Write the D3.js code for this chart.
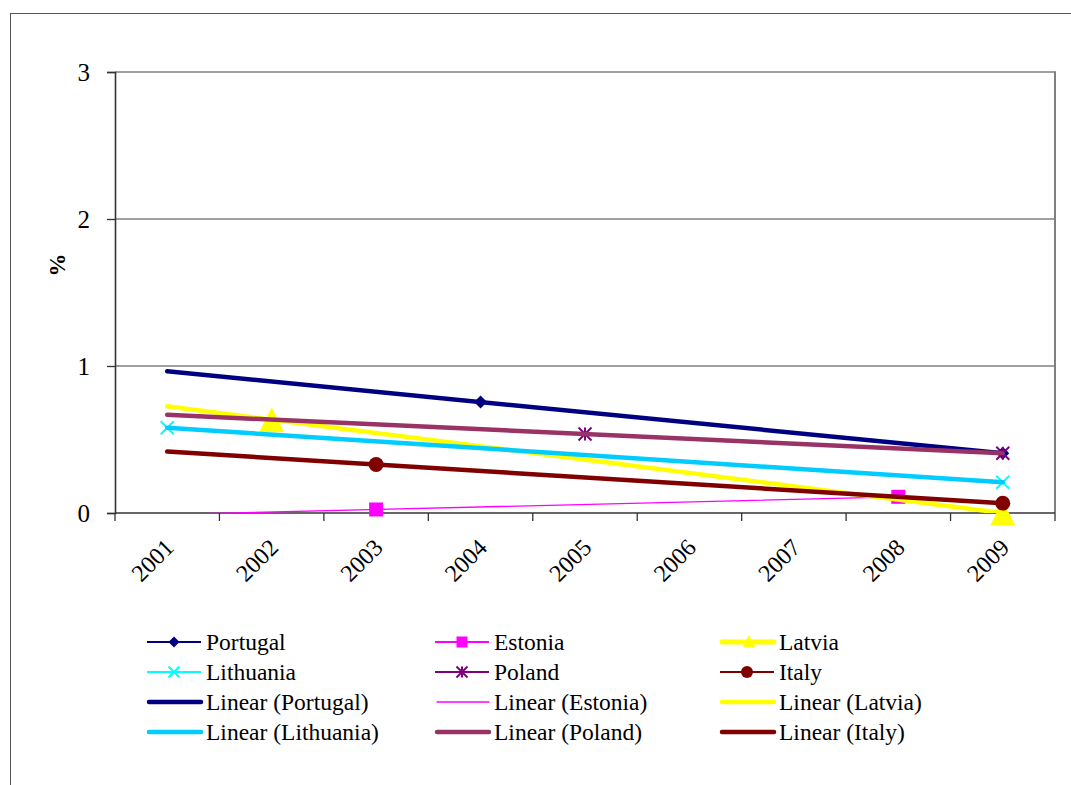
<html><head><meta charset="utf-8"><script src="https://cdn.jsdelivr.net/npm/d3@7"></script></head>
<body style="margin:0">
<svg id="chart" width="1071" height="785" style="font-family:'Liberation Serif'"></svg>
<script>
// ---- Data ----
const years = ["2001","2002","2003","2004","2005","2006","2007","2008","2009"];
const portugal  = [null, null, null, 0.755, null, null, null, null, 0.406];
const estonia   = [null, null, 0.024, null, null, null, null, 0.11, null];
const latvia    = [null, 0.635, null, null, null, null, null, null, 0.0];
const lithuania = [0.58, null, null, null, null, null, null, null, 0.209];
const poland    = [null, null, null, null, 0.537, null, null, null, 0.406];
const italy     = [null, null, 0.33, null, null, null, null, null, 0.066];
const yTicks = [0, 1, 2, 3];
const yLabel = "%";

const seriesNames = ["Portugal","Estonia","Latvia","Lithuania","Poland","Italy"];
const seriesValues = [portugal, estonia, latvia, lithuania, poland, italy];

// styles
const FONT = '"Liberation Serif"';
const markerColor = {Portugal:"#000080", Estonia:"#FF00FF", Latvia:"#FFFF00", Lithuania:"#00FFFF", Poland:"#800080", Italy:"#800000"};
const markerShape = {Portugal:"diamond", Estonia:"square", Latvia:"triangle", Lithuania:"x", Poland:"star", Italy:"circle"};
const trendColor = {Portugal:"#000080", Estonia:"#FF00FF", Latvia:"#FFFF00", Lithuania:"#00CCFF", Poland:"#993366", Italy:"#800000"};
const trendWidth = {Portugal:4.5, Estonia:1.3, Latvia:4.5, Lithuania:4.5, Poland:4.5, Italy:4.5};

const svg = d3.select("#chart");
const L = 115, R = 1055, T = 72, B = 513;

const x = d3.scalePoint().domain(years).range([L, R]).padding(0.5);
const xBand = d3.scaleBand().domain(years).range([L, R]);
const xi = d3.scaleLinear().domain([0, years.length - 1]).range([x(years[0]), x(years[years.length-1])]);
const y = d3.scaleLinear().domain([0, 3]).range([B, T]);

// outer border
svg.append("rect").attr("x", 10.5).attr("y", 13.5).attr("width", 1100).attr("height", 800)
  .attr("fill", "none").attr("stroke", "#555").attr("stroke-width", 1);

// gridlines
svg.append("g").selectAll("line").data(yTicks.filter(d => d > 0)).join("line")
  .attr("x1", L).attr("x2", R).attr("y1", d => y(d)).attr("y2", d => y(d))
  .attr("stroke", "#808080").attr("stroke-width", 1.6);
// right border of plot area
svg.append("line").attr("x1", R).attr("x2", R).attr("y1", T - 0.8).attr("y2", B)
  .attr("stroke", "#808080").attr("stroke-width", 2);

// y axis
const yAxis = d3.axisLeft(y).tickValues(yTicks).tickSize(8).tickPadding(17).tickFormat(d3.format("d"));
const gy = svg.append("g").attr("transform", `translate(${L},0)`).call(yAxis);
gy.attr("font-family", null);
gy.select(".domain").attr("stroke", "#333").attr("stroke-width", 1.6);
gy.selectAll(".tick line").attr("stroke", "#333").attr("stroke-width", 1.3);
gy.selectAll(".tick text").attr("font-size", 25).style("font-family", FONT).attr("fill", "#000").attr("dy", "0.33em");

// x axis: ticks at band boundaries
const gx = svg.append("g").attr("transform", `translate(0,${B})`);
gx.append("line").attr("x1", L).attr("x2", R).attr("stroke", "#333").attr("stroke-width", 1.6);
const bounds = years.map(d => xBand(d)).concat([R]);
gx.selectAll("line.tk").data(bounds).join("line").attr("class", "tk")
  .attr("x1", d => d).attr("x2", d => d).attr("y1", 0).attr("y2", 8)
  .attr("stroke", "#333").attr("stroke-width", 1.3);
gx.selectAll("text").data(years).join("text")
  .attr("transform", d => `translate(${x(d) + 8},${36}) rotate(-45)`)
  .attr("text-anchor", "end").attr("font-size", 24).style("font-family", FONT)
  .text(d => d);

// y label
svg.append("text").attr("transform", "translate(65,265) rotate(-90)")
  .attr("text-anchor", "middle").attr("font-size", 23).attr("font-weight", "bold")
  .style("font-family", FONT).text(yLabel);

// marker drawing
function drawMarker(g, shape, color, cx, cy, s) {
  const h = s / 2;
  if (shape === "diamond") {
    g.append("path").attr("d", `M${cx},${cy-h}L${cx+h},${cy}L${cx},${cy+h}L${cx-h},${cy}Z`).attr("fill", color);
  } else if (shape === "square") {
    g.append("rect").attr("x", cx-h).attr("y", cy-h).attr("width", s).attr("height", s).attr("fill", color);
  } else if (shape === "triangle") {
    g.append("path").attr("d", `M${cx},${cy-h}L${cx+h},${cy+h}L${cx-h},${cy+h}Z`).attr("fill", color);
  } else if (shape === "circle") {
    g.append("circle").attr("cx", cx).attr("cy", cy).attr("r", h).attr("fill", color);
  } else if (shape === "x") {
    g.append("path").attr("d", `M${cx-h},${cy-h}L${cx+h},${cy+h}M${cx-h},${cy+h}L${cx+h},${cy-h}`)
      .attr("stroke", color).attr("stroke-width", 2).attr("fill", "none");
  } else if (shape === "star") {
    g.append("path").attr("d", `M${cx-h},${cy-h}L${cx+h},${cy+h}M${cx-h},${cy+h}L${cx+h},${cy-h}M${cx},${cy-h}L${cx},${cy+h}`)
      .attr("stroke", color).attr("stroke-width", 2).attr("fill", "none");
  }
}
const markerSize = {Portugal:13, Estonia:14, Latvia:25, Lithuania:13, Poland:13, Italy:15};

// clip
svg.append("defs").append("clipPath").attr("id", "plotclip").append("rect")
  .attr("x", L).attr("y", T).attr("width", R - L).attr("height", B - T);

// markers
const gm = svg.append("g");
seriesNames.forEach((name, si) => {
  seriesValues[si].forEach((v, i) => {
    if (v === null) return;
    drawMarker(gm, markerShape[name], markerColor[name], x(years[i]), y(v), markerSize[name]);
  });
});

// linear trend lines (least squares), from first category to the series' last value
const gt = svg.append("g").attr("clip-path", "url(#plotclip)");
const lineGen = d3.line().x(d => xi(d[0])).y(d => y(d[1]));
seriesNames.forEach((name, si) => {
  const pts = seriesValues[si].map((v, i) => [i, v]).filter(d => d[1] !== null);
  const mx = d3.mean(pts, d => d[0]), my = d3.mean(pts, d => d[1]);
  const slope = d3.sum(pts, d => (d[0]-mx)*(d[1]-my)) / d3.sum(pts, d => (d[0]-mx)*(d[0]-mx));
  const icpt = my - slope * mx;
  const lastI = d3.max(pts, d => d[0]);
  const ends = [0, lastI].map(i => [i, icpt + slope * i]);
  gt.append("path").attr("d", lineGen(ends)).attr("fill", "none")
    .attr("stroke", trendColor[name]).attr("stroke-width", trendWidth[name]).attr("stroke-linecap", "round");
});

// legend
const legendItems = [];
seriesNames.forEach(n => legendItems.push({label: n, type: "series", name: n}));
seriesNames.forEach(n => legendItems.push({label: `Linear (${n})`, type: "trend", name: n}));
const colX = [147, 435, 720];
const rowY0 = 642, rowDy = 30, lineLen = 54;
const gl = svg.append("g");
legendItems.forEach((it, k) => {
  const col = k % 3, row = Math.floor(k / 3);
  const lx = colX[col], ly = rowY0 + row * rowDy;
  if (it.type === "series") {
    if (it.name === "Latvia") {
      gl.append("line").attr("x1", lx + 2).attr("x2", lx + lineLen + 2).attr("y1", ly).attr("y2", ly)
        .attr("stroke", "#FFFF00").attr("stroke-width", 5).attr("stroke-dasharray", "7,2").attr("stroke-linecap", "round");
      drawMarker(gl, "triangle", "#FFFF00", lx + lineLen/2 + 2, ly - 1, 12);
    } else {
      gl.append("line").attr("x1", lx).attr("x2", lx + lineLen).attr("y1", ly).attr("y2", ly)
        .attr("stroke", markerColor[it.name]).attr("stroke-width", 2);
      const ms = {Portugal:11, Estonia:11, Lithuania:11, Poland:11, Italy:12}[it.name];
      drawMarker(gl, markerShape[it.name], markerColor[it.name], lx + lineLen/2, ly, ms);
    }
  } else {
    gl.append("line").attr("x1", lx + 2).attr("x2", lx + lineLen).attr("y1", ly).attr("y2", ly)
      .attr("stroke", trendColor[it.name]).attr("stroke-width", trendWidth[it.name])
      .attr("stroke-linecap", "round");
  }
  gl.append("text").attr("x", lx + lineLen + 5).attr("y", ly).attr("dy", "0.33em")
    .attr("font-size", 23.5).style("font-family", FONT).attr("fill", "#000").text(it.label);
});
</script>
</body>
</html>
